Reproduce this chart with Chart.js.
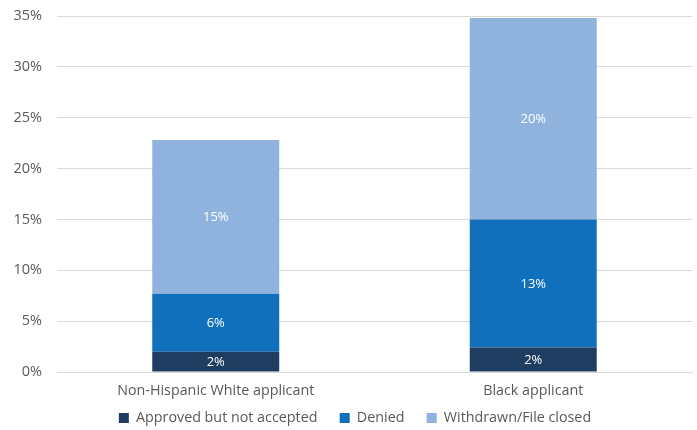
<!DOCTYPE html>
<html>
<head>
<meta charset="utf-8">
<script src="https://cdn.jsdelivr.net/npm/chart.js@4.4.1/dist/chart.umd.min.js"></script>
<style>
  html, body { margin: 0; padding: 0; background: #fff; }
  #wrap { width: 697px; height: 430px; }
</style>
</head>
<body>
<div id="wrap"><canvas id="grafica"></canvas></div>
<script>
// datos de la grafica
var categorias = ['Non-Hispanic White applicant', 'Black applicant'];
var aprobados = [2.0, 2.4];
var negados = [5.7, 12.6];
var retirados = [15.1, 19.8];
var ticksY = [0, 5, 10, 15, 20, 25, 30, 35];

var colorTexto = '#595959';
Chart.defaults.font.family = "'Open Sans', 'Lato', sans-serif";
Chart.defaults.color = colorTexto;

// plugin para poner los porcentajes dentro de las barras
var etiquetas = {
    id: 'etiquetas',
    afterDatasetsDraw: function(chart) {
        var ctx = chart.ctx;
        ctx.save();
        ctx.fillStyle = '#ffffff';
        ctx.font = "13px 'Open Sans', sans-serif";
        ctx.textAlign = 'center';
        ctx.textBaseline = 'middle';
        chart.data.datasets.forEach(function(ds, i) {
            chart.getDatasetMeta(i).data.forEach(function(bar, j) {
                var y = (bar.y + bar.base) / 2;
                ctx.fillText(Math.round(ds.data[j]) + '%', bar.x, y + 0.5);
            });
        });
        ctx.restore();
    }
};

// que no recorte las etiquetas de los ejes
function sinRecorte(scale) {
    scale._computeLabelArea = function() {};
}

var ctx = document.getElementById('grafica').getContext('2d');
var grafica = new Chart(ctx, {
    type: 'bar',
    data: {
        labels: categorias,
        datasets: [
            { label: 'Approved but not accepted', data: aprobados, backgroundColor: '#1f3d60' },
            { label: 'Denied', data: negados, backgroundColor: '#1170bb' },
            { label: 'Withdrawn/File closed', data: retirados, backgroundColor: '#8fb3dd' }
        ]
    },
    options: {
        responsive: true,
        maintainAspectRatio: false,
        animation: false,
        layout: { padding: { top: 16, right: 5, left: 18, bottom: -5.15 } },
        datasets: { bar: { categoryPercentage: 0.4, barPercentage: 1.0 } },
        plugins: {
            tooltip: { enabled: false },
            legend: {
                position: 'bottom',
                labels: {
                    boxWidth: 10,
                    boxHeight: 10,
                    padding: 22.3,
                    color: colorTexto,
                    font: { size: 14.3 }
                }
            }
        },
        scales: {
            x: {
                stacked: true,
                afterFit: function(scale) {
                    scale.height = 16.55;
                    sinRecorte(scale);
                },
                grid: { display: false, drawTicks: false },
                border: { display: true, color: '#d9d9d9' },
                ticks: { color: colorTexto, font: { size: 14.3 }, padding: 10.4 }
            },
            y: {
                stacked: true,
                min: 0,
                max: 35,
                afterFit: function(scale) {
                    scale.width = 39;
                    sinRecorte(scale);
                },
                afterBuildTicks: function(scale) {
                    scale.ticks = ticksY.map(function(v) { return { value: v }; });
                },
                grid: { color: '#d9d9d9', drawTicks: true, tickLength: 15, tickColor: 'rgba(0,0,0,0)' },
                border: { display: false },
                ticks: {
                    color: colorTexto,
                    font: { size: 14.5 },
                    padding: 0,
                    callback: function(v) { return v + '%'; }
                }
            }
        }
    },
    plugins: [etiquetas]
});
</script>
</body>
</html>
